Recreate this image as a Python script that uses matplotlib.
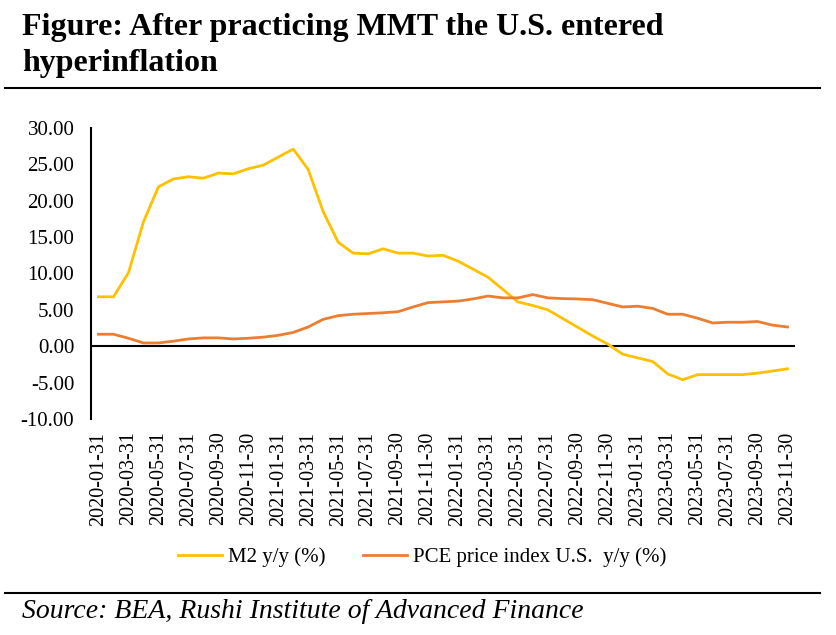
import numpy as np
import matplotlib.pyplot as plt
from matplotlib.lines import Line2D

# monthly y/y rates, Jan 2020 - Nov 2023
m2_yoy = [6.8, 6.8, 10.1, 17.1, 21.9, 23.0, 23.3, 23.1, 23.8, 23.7, 24.4, 24.9,
          26.0, 27.1, 24.3, 18.5, 14.3, 12.8, 12.7, 13.4, 12.8, 12.8, 12.4, 12.5,
          11.7, 10.6, 9.5, 7.8, 6.1, 5.6, 5.0, 3.8, 2.6, 1.4, 0.3, -1.1,
          -1.6, -2.1, -3.8, -4.6, -3.9, -3.9, -3.9, -3.9, -3.7, -3.4, -3.1]
pce_yoy = [1.65, 1.65, 1.1, 0.45, 0.45, 0.7, 1.0, 1.15, 1.15, 1.0, 1.1, 1.25,
           1.5, 1.9, 2.65, 3.7, 4.2, 4.4, 4.5, 4.6, 4.75, 5.4, 6.0, 6.1,
           6.2, 6.5, 6.9, 6.65, 6.65, 7.1, 6.65, 6.55, 6.5, 6.4, 5.9, 5.4,
           5.5, 5.2, 4.4, 4.4, 3.85, 3.2, 3.3, 3.3, 3.4, 2.9, 2.65]
tick_labels = ['2020-01-31', '2020-03-31', '2020-05-31', '2020-07-31', '2020-09-30', '2020-11-30',
               '2021-01-31', '2021-03-31', '2021-05-31', '2021-07-31', '2021-09-30', '2021-11-30',
               '2022-01-31', '2022-03-31', '2022-05-31', '2022-07-31', '2022-09-30', '2022-11-30',
               '2023-01-31', '2023-03-31', '2023-05-31', '2023-07-31', '2023-09-30', '2023-11-30']
y_ticks = [30, 25, 20, 15, 10, 5, 0, -5, -10]

plt.rcParams['font.family'] = ['Liberation Serif', 'DejaVu Serif']

fig = plt.figure(figsize=(8.37, 6.35), dpi=100)
ax = fig.add_axes([91 / 837, 1 - 419 / 635, 704 / 837, 291 / 635])

x = np.arange(len(m2_yoy))
ax.plot(x, m2_yoy, color='#FFC000', lw=2, label='M2 y/y (%)')
ax.plot(x, pce_yoy, color='#ED7D31', lw=2, label='PCE price index U.S.  y/y (%)')
ax.axhline(0, color='black', lw=1.5, zorder=1)

ax.set_xlim(-0.5, len(m2_yoy) - 0.5)
ax.set_ylim(-10, 30)
ax.set_yticks(y_ticks)
ax.set_yticklabels([f'{v:.2f}' for v in y_ticks], fontsize=15)
ax.set_xticks(x[::2])
ax.set_xticklabels(tick_labels, rotation=90, fontsize=14.5)
ax.tick_params(length=0)
ax.tick_params(axis='y', pad=12)
ax.tick_params(axis='x', pad=9)
for s in ['top', 'right', 'bottom']:
    ax.spines[s].set_visible(False)
ax.spines['left'].set_linewidth(1.5)

fig.text(22 / 837, 1 - 27 / 635, 'Figure: After practicing MMT the U.S. entered',
         fontsize=23, fontweight='bold', va='center', ha='left')
fig.text(22 / 837, 1 - 63 / 635, 'hyperinflation',
         fontsize=23, fontweight='bold', va='center', ha='left')

fig.add_artist(Line2D([5 / 837, 820 / 837], [1 - 88 / 635] * 2, color='black', lw=1.5))
fig.add_artist(Line2D([5 / 837, 820 / 837], [1 - 593 / 635] * 2, color='black', lw=1.5))

fig.legend(loc='center', bbox_to_anchor=(0.505, 1 - 557 / 635), ncol=2, frameon=False,
           fontsize=15, handlelength=2.1, columnspacing=1.8, handletextpad=0.3)

fig.text(22 / 837, 1 - 611 / 635, 'Source: BEA, Rushi Institute of Advanced Finance',
         fontsize=20, style='italic', va='center', ha='left')

fig.savefig('out.png', dpi=100)
